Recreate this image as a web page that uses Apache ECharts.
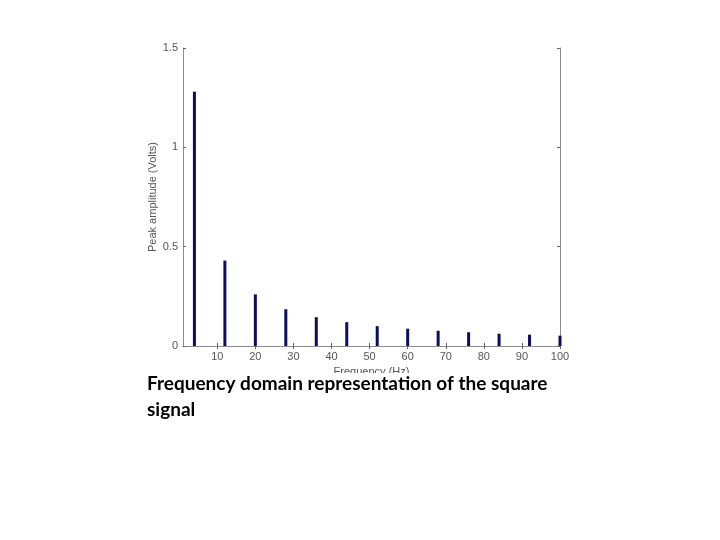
<!DOCTYPE html>
<html>
<head>
<meta charset="utf-8">
<script src="https://cdn.jsdelivr.net/npm/echarts@6/dist/echarts.min.js"></script>
<style>html,body{margin:0;padding:0;background:#fff;}#c{width:720px;height:540px;}</style>
</head>
<body>
<div id="c"></div>
<script>
const frequencies = [4, 12, 20, 28, 36, 44, 52, 60, 68, 76, 84, 92, 100];
const amplitudes = [1.28, 0.43, 0.26, 0.185, 0.145, 0.12, 0.10, 0.087, 0.077, 0.069, 0.062, 0.057, 0.052];
const xTicks = [10, 20, 30, 40, 50, 60, 70, 80, 90, 100];
const yTicks = [0, 0.5, 1, 1.5];
const xTitle = 'Frequency (Hz)';
const yTitle = 'Peak amplitude (Volts)';
const caption = 'Frequency domain representation of the square\nsignal';

const axisGray = '#8c8c8c';
const labelGray = '#555';
const chart = echarts.init(document.getElementById('c'));
const xCommon = {
  type: 'value', min: 1, max: 100,
  axisLine: { show: true, lineStyle: { color: axisGray, width: 1 } },
  axisTick: { show: true, inside: true, length: 3, customValues: xTicks, lineStyle: { color: '#666' } },
  splitLine: { show: false }
};
const yCommon = {
  type: 'value', min: 0, max: 1.5,
  axisLine: { show: true, lineStyle: { color: axisGray, width: 1 } },
  axisTick: { show: true, inside: true, length: 3, customValues: yTicks, lineStyle: { color: '#666' } },
  splitLine: { show: false }
};
chart.setOption({
  animation: false,
  backgroundColor: '#fff',
  grid: { left: 183, right: 160, top: 48, bottom: 194 },
  xAxis: [
    Object.assign({}, xCommon, {
      position: 'bottom',
      name: xTitle, nameLocation: 'middle', nameGap: 20,
      nameTextStyle: { color: labelGray, fontSize: 11, fontFamily: 'Liberation Sans' },
      axisLabel: { show: true, customValues: xTicks, margin: 5, color: labelGray, fontSize: 11, fontFamily: 'Liberation Sans' }
    }),
    Object.assign({}, xCommon, { position: 'top', axisLabel: { show: false } })
  ],
  yAxis: [
    Object.assign({}, yCommon, {
      position: 'left',
      name: yTitle, nameLocation: 'middle', nameGap: 25, nameRotate: 90, nameMoveOverlap: false,
      nameTextStyle: { color: labelGray, fontSize: 11, fontFamily: 'Liberation Sans' },
      axisLabel: { show: true, customValues: yTicks, margin: 5, color: labelGray, fontSize: 11, fontFamily: 'Liberation Sans' }
    }),
    Object.assign({}, yCommon, { position: 'right', axisLabel: { show: false } })
  ],
  series: [{
    type: 'bar',
    data: frequencies.map((f, i) => [f, amplitudes[i]]),
    barWidth: 3,
    itemStyle: { color: '#0d0d5e' }
  }],
  graphic: [
    { type: 'rect', shape: { x: 140, y: 373, width: 430, height: 50 }, style: { fill: '#fff' }, z: 100 },
    { type: 'text', left: 147, top: 371, z: 101,
      style: { text: caption, fill: '#000', font: 'bold 19px Lato', lineHeight: 26 } }
  ]
});
</script>
</body>
</html>
